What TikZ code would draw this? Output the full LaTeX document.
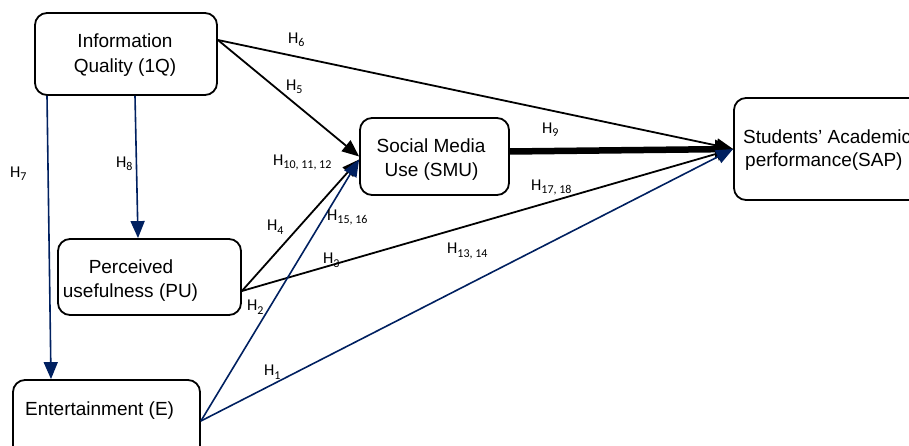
\documentclass[tikz,border=0pt]{standalone}
\usepackage{fontspec}
\setmainfont{Liberation Sans}
\newfontfamily\hfont{Carlito}
\usetikzlibrary{arrows.meta}
\definecolor{navy}{RGB}{0,32,96}
\newcommand{\hyp}[1]{{\hfont\fontsize{16.5}{18}\selectfont H\raisebox{-3.5pt}{\fontsize{12}{13}\selectfont #1}}}
\begin{document}
\begin{tikzpicture}[x=1pt,y=-1pt,
  box/.style={draw=black, line width=1.8pt, rounded corners=12pt, inner sep=0pt},
  txt/.style={font=\fontsize{19}{24}\selectfont, inner sep=0pt, anchor=base},
  hl/.style={inner sep=0pt, anchor=base west},
  conn/.style={-{Triangle[length=17pt,width=14pt]}},
  blk/.style={conn, line width=1.8pt, draw=black, fill=black},
  nvy/.style={conn, line width=1.6pt, draw=navy, fill=navy},
  thick arrow/.style={line width=6.5pt, draw=black, -{Triangle[length=18pt,width=18pt]}}
]
\clip (0,0) rectangle (909,446);

% boxes
\node[box, minimum width=182pt, minimum height=82pt] (iq) at (126,54) {};
\node[box, minimum width=149pt, minimum height=77pt] (smu) at (434.5,156.5) {};
\node[box, minimum width=196pt, minimum height=102pt] (sap) at (832,149) {};
\node[box, minimum width=183pt, minimum height=76pt] (pu) at (149.5,277) {};
\node[box, minimum width=187pt, minimum height=90pt] (e) at (106.5,425) {};

% box texts
\node[txt] (iq1) at (125,48) {Information};
\node[txt] (iq2) at (125,73) {Quality (1Q)};
\node[txt] (smu1) at (431,152.7) {Social Media};
\node[txt] (smu2) at (431.5,176.7) {Use (SMU)};
\node[txt] (pu1) at (131,273) {Perceived};
\node[txt] (pu2) at (130.5,297.7) {usefulness (PU)};
\node[txt, anchor=base west] (e1) at (25,415) {Entertainment (E)};
\node[txt, anchor=base west] (sap1) at (743,143.3) {Students’ Academic};
\node[txt, anchor=base west] (sap2) at (745,167) {performance(SAP)};

% black connectors
\draw[blk] ([yshift=14pt]iq.east) -- (sap.west);
\draw[blk] ([yshift=14pt]iq.east) -- (smu.west);
\draw[thick arrow] ([yshift=5pt]smu.east) -- (sap.west);
\draw[blk] ([yshift=-14pt]pu.east) -- ([yshift=-3pt]smu.west);
\draw[blk] ([yshift=-14pt]pu.east) -- (sap.west);

% navy connectors
\draw[nvy] ([yshift=4pt]e.east) -- ([yshift=-3pt]smu.west);
\draw[nvy] ([yshift=4pt]e.east) -- (sap.west);
\draw[nvy] ([xshift=-79pt]iq.south) -- ([xshift=-55.5pt]e.north);
\draw[nvy] ([xshift=9pt]iq.south) -- ([xshift=-11.5pt]pu.north);

% hypothesis labels
\node[hl] (h6) at (288,43.5) {\hyp{6}};
\node[hl] (h5) at (286,90.5) {\hyp{5}};
\node[hl] (h10) at (273,165.5) {\hyp{10, 11, 12}};
\node[hl] (h7) at (10,177.5) {\hyp{7}};
\node[hl] (h8) at (116,167.5) {\hyp{8}};
\node[hl] (h4) at (267,230.5) {\hyp{4}};
\node[hl] (h15) at (327,220.5) {\hyp{15, 16}};
\node[hl] (h3) at (323,263.5) {\hyp{3}};
\node[hl] (h13) at (447,253.5) {\hyp{13, 14}};
\node[hl] (h2) at (247,310.5) {\hyp{2}};
\node[hl] (h1) at (264,375.5) {\hyp{1}};
\node[hl] (h9) at (542,133.5) {\hyp{9}};
\node[hl] (h17) at (531,190.5) {\hyp{17, 18}};
\end{tikzpicture}
\end{document}
